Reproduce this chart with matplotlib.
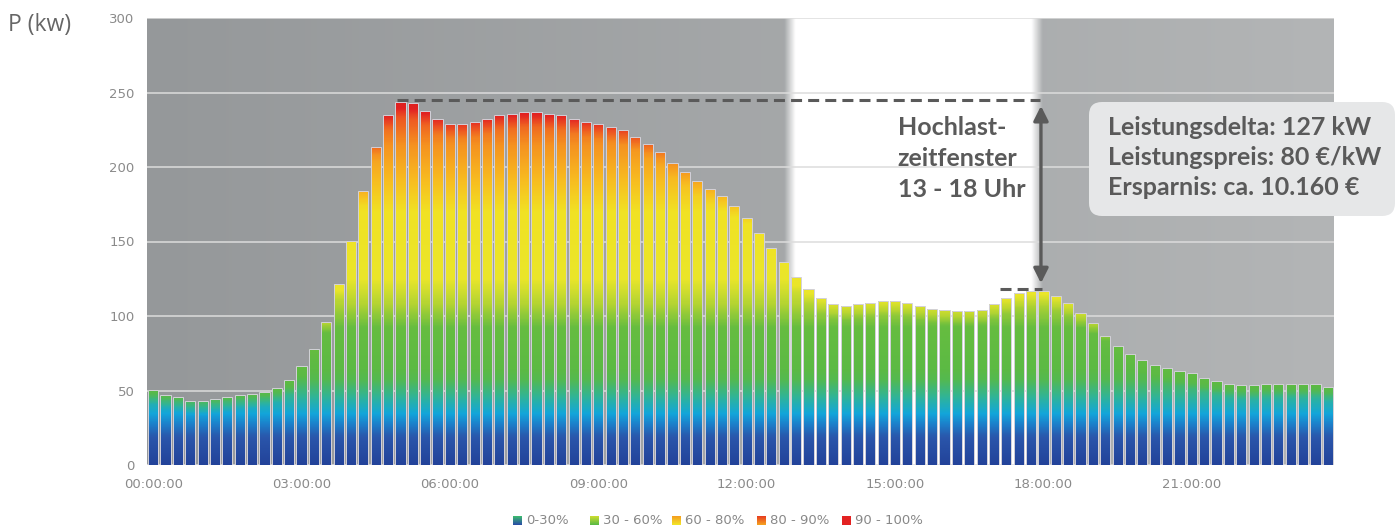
import numpy as np
import matplotlib
matplotlib.use("Agg")
import matplotlib.pyplot as plt
from matplotlib.colors import LinearSegmentedColormap, to_rgb
from matplotlib.path import Path
from matplotlib.patches import PathPatch, FancyBboxPatch

# 15-minute load profile, kW
power_kw = [
    50.3, 47, 45.4, 43, 43, 44.3, 45.4, 47, 47.5, 49, 52, 57,
    66.6, 77.6, 96, 121.5, 150.3, 184, 213.6, 235, 243.8, 242.7, 237.8, 232, 229, 229,
    230.4, 232.4, 235, 235.4, 236.7, 236.7, 235.4, 234.9, 232.4, 230.4, 228.7, 226.8,
    224.8, 220.4, 215.4, 210, 202.9, 196.9, 190.6, 185.5, 180.5, 173.8, 165.5, 155.5,
    145.4, 136.5, 126.4,
    117.9, 111.9, 108, 106.7, 108, 108.9, 110, 110, 108.9, 106.7, 104.9, 104, 103.1,
    103.1, 104, 108, 111.9, 115.2, 116.8, 116.8, 113.6, 108.9, 101.8,
    95, 86.6, 79.9, 74.5, 70.5, 67.1, 65.3, 63.3, 61.5, 58.2, 56.4, 54.6, 53.5, 53.5,
    54.6, 54.6, 54.6, 54.6, 54.6, 52.2,
]
hour_labels = ["00:00:00", "03:00:00", "06:00:00", "09:00:00",
               "12:00:00", "15:00:00", "18:00:00", "21:00:00"]
y_ticks = [0, 50, 100, 150, 200, 250, 300]
window_start_h, window_end_h = 13, 18
peak_kw = 245
window_peak_kw = 118
peak_start_slot = 20
legend_labels = ["0-30%", "30 - 60%", "60 - 80%", "80 - 90%", "90 - 100%"]
legend_colors = [("#2a4fa5", "#3cb870"), ("#5cba44", "#c8dc30"), ("#f2e428", "#f5a020"),
                 ("#f5a020", "#e84020"), ("#e32222", "#e32222")]
info_lines = ["Leistungsdelta: 127 kW", "Leistungspreis: 80 \u20ac/kW", "Ersparnis: ca. 10.160 \u20ac"]
window_lines = ["Hochlast-", "zeitfenster", "13 - 18 Uhr"]

W, H = 1399, 531
fig = plt.figure(figsize=(W / 100, H / 100), dpi=100)
ax = fig.add_axes([147 / W, 1 - 465 / H, (1334 - 147) / W, (465 - 18) / H])

n = len(power_kw)
x = np.arange(n)
xmin, xmax = -0.5, n - 0.5

# background: grey with a lighter right side, white high-load window with soft edges
cols = np.linspace(xmin, xmax, 2000)
left_grey = np.array([149, 152, 154]) / 255
right_grey = np.array([179, 181, 182]) / 255
t = (cols - xmin) / (xmax - xmin)
grey = left_grey[None, :] * (1 - t[:, None]) + right_grey[None, :] * t[:, None]
ws = window_start_h * 4 - 0.5
we = window_end_h * 4 - 0.5
ramp = 0.45
w = np.clip((cols - (ws - ramp)) / (2 * ramp), 0, 1) * np.clip(((we + ramp) - cols) / (2 * ramp), 0, 1)
bg = grey * (1 - w[:, None]) + w[:, None]
ax.imshow(bg[None, :, :], extent=[xmin, xmax, 0, 300], aspect="auto", zorder=0,
          interpolation="bilinear")

# horizontal grid lines, kept under the bars
for yv in y_ticks:
    ax.axhline(yv, color="#dcdcdc", linewidth=1.1, zorder=0.5)

# gradient coloured bars
stops = [(0, "#23439a"), (18, "#2a56ab"), (27, "#1c80cb"), (34, "#12a6da"),
         (45, "#30b498"), (57, "#54b950"), (64, "#5cba44"), (92, "#66bd40"),
         (108, "#b4d432"), (125, "#eae62a"), (170, "#f1e224"), (192, "#f8bb20"),
         (215, "#f59220"), (232, "#ee5a22"), (248, "#e22222"), (270, "#d81e1e")]
vmax = 270
cmap = LinearSegmentedColormap.from_list("load", [(v / vmax, c) for v, c in stops])

bars = ax.bar(x, power_kw, width=0.82, color="none", edgecolor="#d3d1d9",
              linewidth=0.7, zorder=3)

nx, ny = n * 20, 600
xc = np.linspace(xmin, xmax, nx)
yc = np.linspace(0, 300, ny)
idx = np.clip(np.round(xc).astype(int), 0, n - 1)
h = np.array(power_kw)[idx]
Y = yc[:, None]
y_eff = Y + 14 * np.clip(1 - (h[None, :] - Y) / 10, 0, 1)
img = cmap(np.clip(y_eff / vmax, 0, 1))
im = ax.imshow(img, extent=[xmin, xmax, 0, 300], origin="lower", aspect="auto", zorder=2,
               interpolation="bilinear")
paths = [r.get_patch_transform().transform_path(r.get_path()) for r in bars]
clip = PathPatch(Path.make_compound_path(*paths), transform=ax.transData)
im.set_clip_path(clip)

ax.set_xlim(xmin, xmax)
ax.set_ylim(0, 300)
for s in ax.spines.values():
    s.set_visible(False)
ax.set_yticks(y_ticks)
ax.set_xticks(np.arange(0, n, 12))
ax.set_xticklabels(hour_labels)
ax.tick_params(length=0, labelsize=9.5, labelcolor="#8a8a8a")
ax.tick_params(axis="x", pad=9)
ax.tick_params(axis="y", pad=9)

# annotations
dark = "#5a5a5a"
ax.plot([peak_start_slot - 0.3, we + 0.25], [peak_kw, peak_kw], color=dark, lw=2.2,
        linestyle=(0, (3.6, 2)), zorder=5)
ax.plot([68.5, we + 0.4], [window_peak_kw, window_peak_kw], color=dark, lw=2.2,
        linestyle=(0, (3.6, 2)), zorder=5)
ax.annotate("", xy=(we + 0.3, peak_kw - 4), xytext=(we + 0.3, window_peak_kw + 4),
            arrowprops=dict(arrowstyle="<|-|>", color=dark, lw=2.4, mutation_scale=22,
                            shrinkA=0, shrinkB=0), zorder=6)
ax.text(60.2, 234, "\n".join(window_lines), ha="left", va="top", fontsize=18,
        fontweight="bold", family="Lato", color=dark, linespacing=1.42, zorder=6)

# info box drawn in pixel coordinates
box = FancyBboxPatch((1089, H - 216), 1395 - 1089, 216 - 102,
                     boxstyle="round,pad=0,rounding_size=13", transform=None,
                     facecolor="#e6e7e8", edgecolor="none", zorder=10)
fig.patches.append(box)
fig.text(1108 / W, 1 - 116 / H, "\n".join(info_lines), ha="left", va="top", fontsize=18,
         fontweight="bold", family="Lato", color=dark, linespacing=1.36, zorder=11)

fig.text(8 / W, 1 - 25 / H, "P (kw)", ha="left", va="center", fontsize=16.5,
         family="Open Sans", color="#666666")

# legend with small gradient squares
sq_x = [513, 590, 672, 757, 842]
for sx, lab, (c0, c1) in zip(sq_x, legend_labels, legend_colors):
    sax = fig.add_axes([sx / W, 1 - 525 / H, 9 / W, 9 / H])
    grad = np.linspace(0, 1, 10)[:, None, None]
    col = np.array(to_rgb(c0))[None, None, :] * (1 - grad) + np.array(to_rgb(c1))[None, None, :] * grad
    sax.imshow(np.repeat(col, 3, axis=1), origin="lower", aspect="auto")
    sax.axis("off")
    fig.text((sx + 13) / W, 1 - 521 / H, lab, ha="left", va="center", fontsize=9.5,
             color="#888888")

fig.savefig("out.png", dpi=100)
